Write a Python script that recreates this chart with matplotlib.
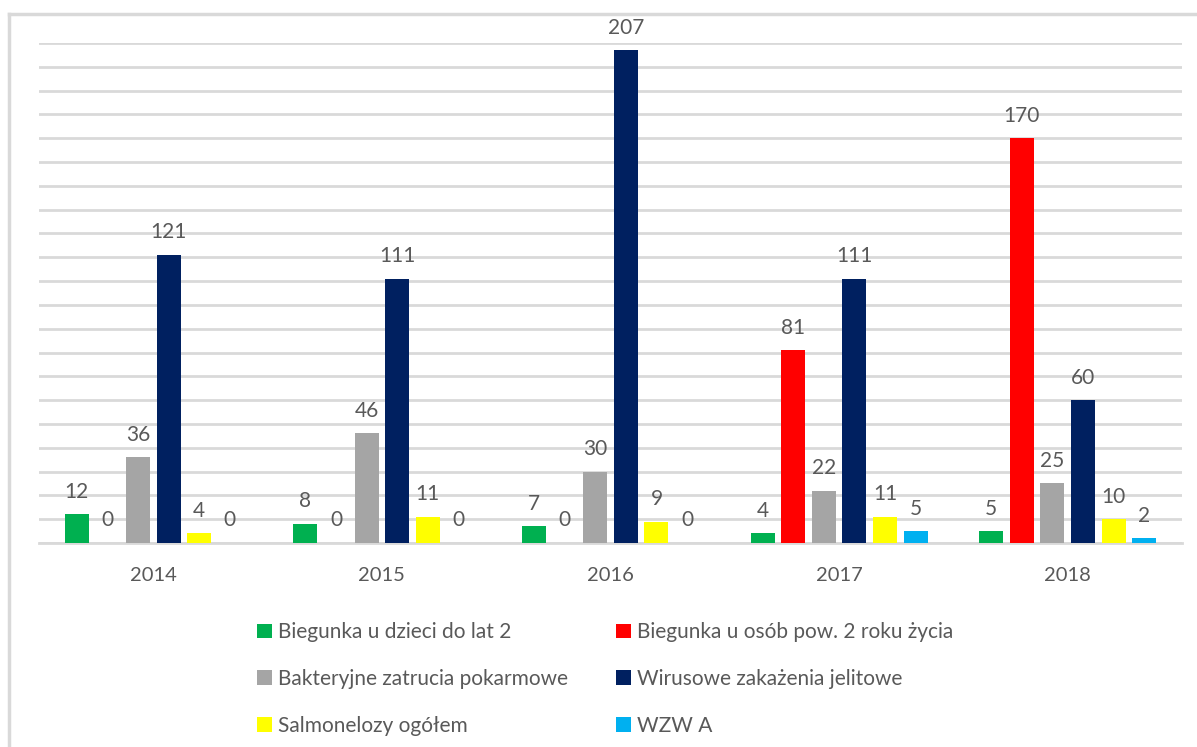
import matplotlib.pyplot as plt
import numpy as np
from matplotlib.lines import Line2D
from matplotlib.patches import Patch

plt.rcParams['font.family'] = ['Lato', 'DejaVu Sans']

# dane
lata = ["2014", "2015", "2016", "2017", "2018"]
serie = ["Biegunka u dzieci do lat 2",
         "Biegunka u osób pow. 2 roku życia",
         "Bakteryjne zatrucia pokarmowe",
         "Wirusowe zakażenia jelitowe",
         "Salmonelozy ogółem",
         "WZW A"]
biegunka_dzieci = [12, 8, 7, 4, 5]
biegunka_doro = [0, 0, 0, 81, 170]
bakteryjne = [36, 46, 30, 22, 25]
wirusowe = [121, 111, 207, 111, 60]
salmonelozy = [4, 11, 9, 11, 10]
wzw_a = [0, 0, 0, 5, 2]
kolory = ["#00B050", "#FF0000", "#A5A5A5", "#002060", "#FFFF00", "#00B0F0"]

dane = [biegunka_dzieci, biegunka_doro, bakteryjne, wirusowe, salmonelozy, wzw_a]

#--------------------------------------------------------------------------

tekst = "#595959"
siatka = "#D9D9D9"

fig = plt.figure(figsize=(11.97, 7.47), dpi=100)
ax = fig.add_axes([39 / 1197, 204 / 747, (1182 - 39) / 1197, 500 / 747])

x = np.arange(len(lata))
krok = 0.134
szer = 0.105
for i, (wart, kol) in enumerate(zip(dane, kolory)):
    pos = x + (i - 2.5) * krok
    ax.bar(pos, wart, width=szer, color=kol, zorder=3)
    for px, v in zip(pos, wart):
        ax.annotate(str(v), (px, v), xytext=(0, 9), textcoords="offset points",
                    ha="center", va="bottom", fontsize=15, color=tekst)

ax.set_xlim(-0.5, len(lata) - 0.5)
ax.set_ylim(0, 210)
ax.set_yticks(np.arange(0, 211, 10))
ax.yaxis.grid(True, color=siatka, linewidth=2, zorder=0)
ax.tick_params(axis="y", left=False, labelleft=False)
ax.set_xticks(x)
ax.set_xticklabels(lata)
ax.tick_params(axis="x", bottom=False, labelsize=14.5, labelcolor=tekst, pad=14)
for s in ["top", "right", "left"]:
    ax.spines[s].set_visible(False)
ax.spines["bottom"].set_color(siatka)
ax.spines["bottom"].set_linewidth(2)

# legenda (kolejnosc wierszami)
uchwyty = [Patch(facecolor=k, edgecolor="none") for k in kolory]
kolejnosc = [0, 2, 4, 1, 3, 5]
fig.legend([uchwyty[k] for k in kolejnosc], [serie[k] for k in kolejnosc],
           ncol=2, loc="upper left", bbox_to_anchor=(249 / 1197, 1 - 614 / 747),
           frameon=False, fontsize=15, labelcolor=tekst,
           handlelength=0.7, handleheight=0.7, handletextpad=0.3,
           columnspacing=2.3, labelspacing=1.28, borderaxespad=0)

# ramka wykresu
fig.add_artist(Line2D([9 / 1197, 1], [1 - 14 / 747, 1 - 14 / 747], color=siatka, linewidth=2.5))
fig.add_artist(Line2D([9 / 1197, 9 / 1197], [0, 1 - 14 / 747], color=siatka, linewidth=2.5))

fig.savefig("out.png", dpi=100)
